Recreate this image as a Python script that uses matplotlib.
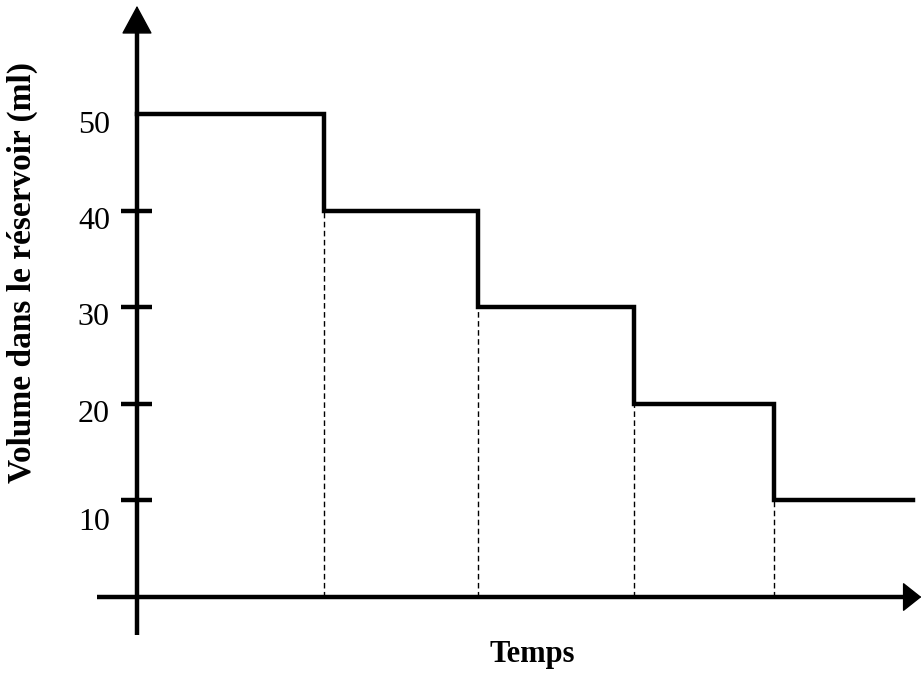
import numpy as np
import matplotlib
matplotlib.use("Agg")
import matplotlib.pyplot as plt

plt.rcParams['font.family'] = ['Liberation Serif', 'DejaVu Serif']

# step times (arbitrary units) and volume held during each step (ml)
t_change = [0, 1.94, 3.53, 5.15, 6.59, 8.03]
volume = [50, 40, 30, 20, 10]
ticks = [10, 20, 30, 40, 50]
tick_labels = ["10", "20", "30", "40", "50"]
label_y = [7.7, 18.9, 28.9, 38.9, 48.8]

fig = plt.figure(figsize=(9.21, 6.77), dpi=100)
ax = fig.add_axes([0, 0, 1, 1])
ax.set_xlim(-1.418, 8.116)
ax.set_ylim(-8.28, 61.8)
ax.axis("off")

lw = 3.2
# axes with arrows
ax.plot([0, 0], [-3.9, 59], color="black", lw=lw, solid_capstyle="butt")
ax.annotate("", xy=(0, 61.2), xytext=(0, 54),
            arrowprops=dict(arrowstyle="-|>,head_length=1.85,head_width=1.0",
                            color="black", lw=1.0, shrinkA=0, shrinkB=0),
            annotation_clip=False)
ax.plot([-0.41, 8.0], [0, 0], color="black", lw=lw, solid_capstyle="butt")
ax.annotate("", xy=(8.12, 0), xytext=(7.7, 0),
            arrowprops=dict(arrowstyle="-|>,head_length=1.2,head_width=0.95",
                            color="black", lw=1.0, shrinkA=0, shrinkB=0),
            annotation_clip=False)

# tick marks and labels
for v, lab, ly in zip(ticks, tick_labels, label_y):
    if v != 50:
        ax.plot([-0.165, 0.155], [v, v], color="black", lw=lw, solid_capstyle="butt")
    ax.text(-0.28, ly, lab, ha="right", va="center", fontsize=23)

# step curve
xs, ys = [], []
for i, v in enumerate(volume):
    xs += [t_change[i], t_change[i + 1]]
    ys += [v, v]
ax.plot(xs, ys, color="black", lw=lw, solid_joinstyle="miter")

# dashed drop lines
for i in range(1, len(volume)):
    ax.plot([t_change[i], t_change[i]], [0, volume[i]], color="black",
            lw=1.0, ls=(0, (4, 2.5)))

ax.text(-1.19, 33.6, "Volume dans le réservoir (ml)", rotation=90,
        ha="center", va="center", fontsize=24, fontweight="bold")
ax.text(4.09, -6.0, "Temps", ha="center", va="center",
        fontsize=22, fontweight="bold")

fig.savefig("out.png", dpi=100)
